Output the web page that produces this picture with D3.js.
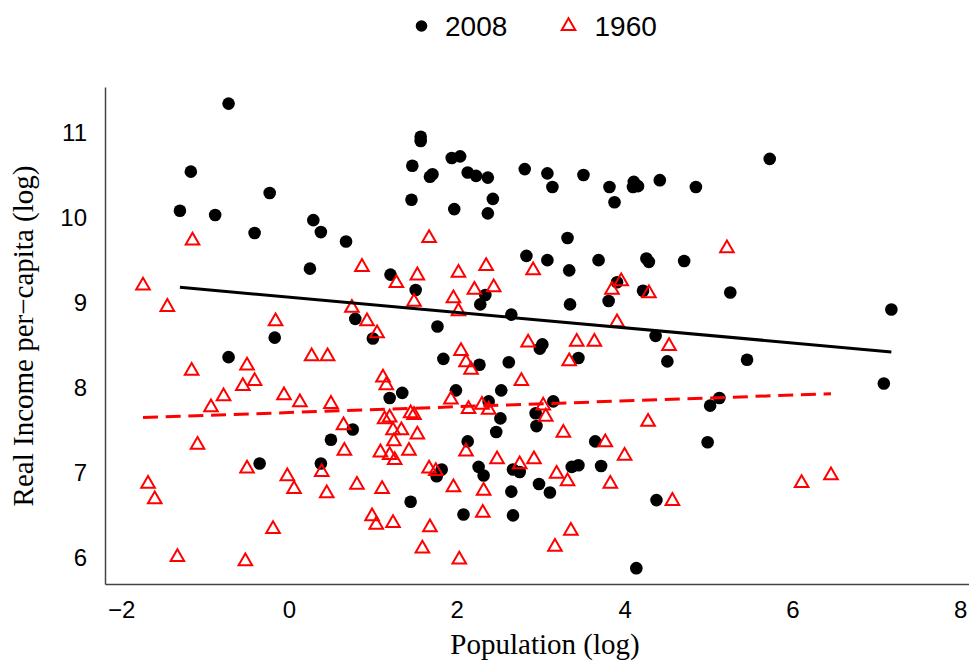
<!DOCTYPE html>
<html>
<head>
<meta charset="utf-8">
<script src="https://cdn.jsdelivr.net/npm/d3@7.9.0/dist/d3.min.js"></script>
<style>
  body { margin: 0; background: #fff; }
  svg { display: block; }
  .tick text { font-family: "Liberation Sans", Arial, sans-serif; font-size: 24px; fill: #000; }
  .axis-title { font-family: "Liberation Serif", "Times New Roman", serif; font-size: 29px; fill: #000; }
  .legend text { font-family: "Liberation Sans", Arial, sans-serif; font-size: 28px; fill: #000; }
</style>
</head>
<body>
<svg id="chart" width="969" height="661"></svg>
<script>
// 2008: log population / log real income per capita
const pop2008 = [
  -0.72, -1.17, -0.23, -1.30, -0.88, -0.41, 0.29, 0.38, 0.68, 0.25,
  1.21, 0.79, -0.17, 1.00, 1.57, 1.57, 1.47, 1.94, 2.04, 1.68,
  1.71, 2.13, 2.23, 2.37, 1.46, 2.43, 1.97, 2.37, 2.81, 3.08,
  3.14, 3.51, 3.82, 3.88, 4.11, 4.10, 4.16, 4.42, 3.32, 2.83,
  3.08, 3.34, 3.69, 4.26, 4.29, 4.71, 1.51, 2.34, 2.28, 1.77,
  2.65, 3.35, 3.81, 3.91, 4.22, 4.37, 3.02, 2.99, 5.73, 4.85,
  5.26, 7.18, -0.72, 1.20, 1.35, 0.76, 0.50, -0.35, 0.38, 3.45,
  4.51, 1.84, 2.27, 2.62, 1.99, 2.53, 2.38, 3.15, 2.94, 2.52,
  2.95, 2.47, 2.13, 3.65, 1.82, 1.76, 2.26, 2.32, 2.67, 2.75,
  3.37, 3.45, 3.72, 2.98, 3.11, 2.65, 1.45, 2.08, 2.67, 4.38,
  4.14, 5.46, 7.09, 5.13, 5.02, 4.99
];
const inc2008 = [
  11.34, 10.54, 10.29, 10.08, 10.03, 9.82, 9.97, 9.83, 9.72, 9.40,
  9.33, 8.81, 8.59, 8.58, 10.95, 10.90, 10.61, 10.70, 10.72, 10.48,
  10.51, 10.53, 10.49, 10.47, 10.21, 10.22, 10.10, 10.05, 10.57, 10.52,
  10.36, 10.50, 10.36, 10.18, 10.42, 10.36, 10.37, 10.44, 9.76, 9.55,
  9.50, 9.38, 9.50, 9.52, 9.48, 9.49, 9.15, 9.09, 8.98, 8.72,
  8.86, 8.98, 9.02, 9.24, 9.14, 8.61, 8.51, 8.46, 10.69, 10.36,
  9.12, 8.92, 8.36, 7.88, 7.94, 7.51, 7.39, 7.11, 7.11, 8.35,
  8.31, 8.34, 8.27, 8.30, 7.97, 7.97, 7.84, 7.84, 7.70, 7.64,
  7.55, 7.48, 7.37, 7.37, 7.04, 6.96, 7.07, 6.97, 7.04, 7.01,
  7.07, 7.09, 7.08, 6.87, 6.77, 6.78, 6.66, 6.51, 6.50, 6.68,
  5.88, 8.33, 8.05, 7.88, 7.79, 7.36
];

// 1960
const pop1960 = [
  -1.15, -1.74, -1.45, -0.16, 0.87, 1.28, 0.75, 0.93, 1.05, 1.67,
  1.53, 2.02, 2.35, 2.91, 2.21, 2.44, 1.96, 1.49, 2.02, 3.96,
  3.85, 4.29, 3.91, 5.22, -1.16, -0.50, 0.27, 0.46, -0.41, -0.55,
  -0.78, -0.93, -0.06, 0.13, 0.50, 1.12, 1.16, 0.65, 1.14, 1.20,
  1.24, 1.25, -1.09, 0.66, 1.09, 1.20, 1.26, -0.50, 0.39, -0.02,
  0.06, 0.81, 1.11, 0.45, -1.68, -1.60, -0.19, 0.99, 1.04, 1.24,
  -1.33, -0.52, 2.85, 3.43, 3.64, 4.53, 2.05, 2.11, 2.17, 3.34,
  2.77, 1.93, 2.14, 2.30, 2.38, 3.03, 3.06, 1.45, 1.49, 1.34,
  1.53, 1.43, 2.11, 3.27, 3.77, 4.00, 4.28, 2.48, 2.75, 2.92,
  1.67, 1.75, 3.19, 3.32, 3.83, 1.96, 2.32, 4.57, 2.31, 1.68,
  3.36, 1.59, 3.17, 2.03, 6.11, 6.46
];
const inc1960 = [
  9.73, 9.20, 8.95, 8.78, 9.42, 9.23, 8.94, 8.78, 8.64, 9.76,
  9.32, 9.35, 9.43, 9.38, 9.15, 9.18, 9.05, 9.01, 8.90, 9.25,
  9.15, 9.11, 8.77, 9.64, 8.20, 8.26, 8.37, 8.37, 8.08, 8.02,
  7.90, 7.77, 7.91, 7.83, 7.81, 8.12, 8.03, 7.56, 7.63, 7.65,
  7.50, 7.37, 7.33, 7.26, 7.24, 7.21, 7.15, 7.05, 7.01, 6.96,
  6.81, 6.86, 6.81, 6.76, 6.87, 6.69, 6.34, 6.49, 6.39, 6.41,
  6.01, 5.96, 8.53, 8.54, 8.54, 8.49, 8.43, 8.30, 8.21, 8.31,
  8.08, 7.86, 7.75, 7.80, 7.74, 7.79, 7.66, 7.70, 7.68, 7.50,
  7.45, 7.26, 7.25, 7.47, 7.36, 7.20, 7.60, 7.16, 7.10, 7.16,
  7.05, 7.02, 6.99, 6.90, 6.87, 6.83, 6.79, 6.67, 6.53, 6.36,
  6.32, 6.11, 6.13, 5.98, 6.88, 6.97
];

// fitted lines: [intercept, slope]
const fit2008 = [9.064, -0.0895];
const fit1960 = [7.709, 0.0342];

const xTicks = [-2, 0, 2, 4, 6, 8];
const yTicks = [6, 7, 8, 9, 10, 11];
const legendLabels = ['2008', '1960'];

const svg = d3.select('#chart');

let x = d3.scaleLinear().domain([-2.193, 8.296]).range([105, 985]);
let y = d3.scaleLinear().domain([5.694, 11.535]).range([584, 87]);

// axes: line only, no tick marks
let xAxis = svg.append('g')
    .attr('transform', 'translate(0,584)')
    .call(d3.axisBottom(x).tickValues(xTicks).tickSize(0).tickPadding(17).tickFormat(d3.format('d')));
let yAxis = svg.append('g')
    .attr('transform', 'translate(105,0)')
    .call(d3.axisLeft(y).tickValues(yTicks).tickSize(0).tickPadding(18).tickFormat(d3.format('d')));
[xAxis, yAxis].forEach((g) => {
    g.select('.domain').attr('stroke', '#444').attr('stroke-width', 1.5);
});

// points
let pts2008 = pop2008.map((p, i) => [p, inc2008[i]]);
let pts1960 = pop1960.map((p, i) => [p, inc1960[i]]);

svg.append('g')
    .selectAll('circle')
    .data(pts2008)
    .join('circle')
    .attr('cx', (d) => x(d[0]))
    .attr('cy', (d) => y(d[1]))
    .attr('r', 6.3)
    .attr('fill', '#000');

let tri = d3.symbol().type(d3.symbolTriangle).size(80);
svg.append('g')
    .selectAll('path')
    .data(pts1960)
    .join('path')
    .attr('d', tri)
    .attr('transform', (d) => `translate(${x(d[0])},${y(d[1])})`)
    .attr('fill', 'none')
    .attr('stroke', '#ff0000')
    .attr('stroke-width', 2);

// regression lines over each series' x range
let line = d3.line().x((d) => x(d[0])).y((d) => y(d[1]));
function fitPoints(xs, fit) {
    return d3.extent(xs).map((v) => [v, fit[0] + fit[1] * v]);
}
svg.append('path')
    .attr('d', line(fitPoints(pop2008, fit2008)))
    .attr('fill', 'none')
    .attr('stroke', '#000')
    .attr('stroke-width', 3);
svg.append('path')
    .attr('d', line(fitPoints(pop1960, fit1960)))
    .attr('fill', 'none')
    .attr('stroke', '#ff0000')
    .attr('stroke-width', 3)
    .attr('stroke-dasharray', '15,7.7');

// axis titles
svg.append('text')
    .attr('class', 'axis-title')
    .attr('x', 545)
    .attr('y', 654)
    .attr('text-anchor', 'middle')
    .text('Population (log)');
svg.append('text')
    .attr('class', 'axis-title')
    .attr('transform', 'translate(33,336) rotate(-90)')
    .attr('text-anchor', 'middle')
    .text('Real Income per\u2212capita (log)');

// legend
let legend = svg.append('g').attr('class', 'legend');
legend.append('circle').attr('cx', 421.5).attr('cy', 26).attr('r', 5.8).attr('fill', '#000');
legend.append('text').attr('x', 445).attr('y', 36).text(legendLabels[0]);
legend.append('path')
    .attr('d', tri)
    .attr('transform', 'translate(568.5,26)')
    .attr('fill', 'none')
    .attr('stroke', '#ff0000')
    .attr('stroke-width', 2);
legend.append('text').attr('x', 594.5).attr('y', 36).text(legendLabels[1]);
</script>
</body>
</html>
